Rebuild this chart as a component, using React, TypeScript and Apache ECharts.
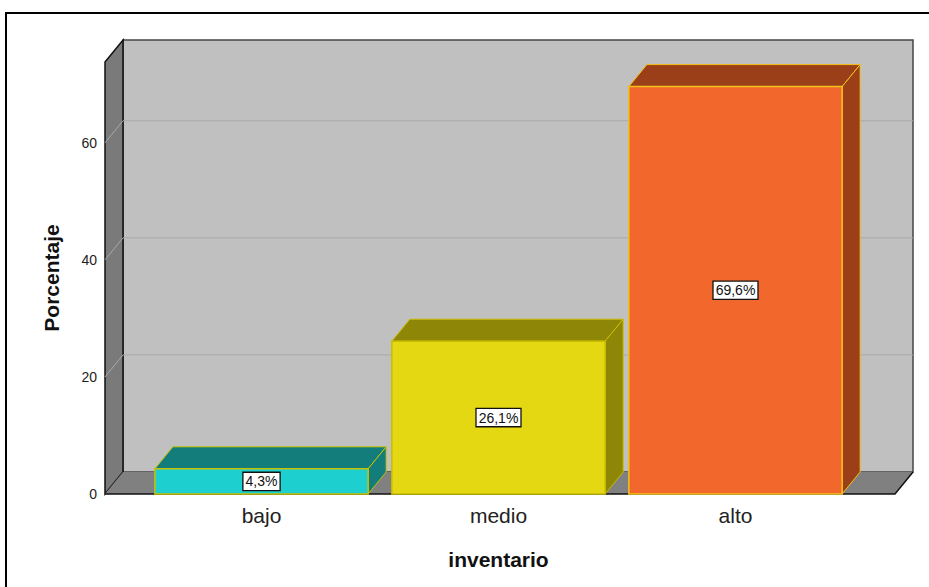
import React, { useEffect, useRef } from "react";
import * as echarts from "echarts";

const CATEGORIES = ["bajo", "medio", "alto"];
const VALUES = [4.3, 26.1, 69.6];
const VALUE_LABELS = ["4,3%", "26,1%", "69,6%"];
const Y_TICKS = [20, 40, 60];
const FRONT_COLORS = ["#1dcfcf", "#e3d811", "#f2672b"];
const DARK_COLORS = ["#137d7b", "#8e8607", "#9b3f18"];
const EDGE_COLORS = ["#c8c000", "#c9bd00", "#f2c21a"];

const FONT = "'Liberation Sans', Arial, sans-serif";
const DX = 18;
const DY = -22;
const PAD_L = 38;
const PAD_R = 41;

export default function App() {
  const ref = useRef<HTMLDivElement>(null);

  useEffect(() => {
    if (!ref.current) return;
    const chart = echarts.init(ref.current, null, { renderer: "svg" });

    const wallsRender = (params: any, api: any) => {
      const cs = params.coordSys;
      const fx0 = cs.x - PAD_L;
      const fx1 = cs.x + cs.width + PAD_R;
      const fy0 = cs.y;
      const fyB = cs.y + cs.height;
      const children: any[] = [];
      children.push({
        type: "rect",
        shape: { x: fx0 + DX, y: fy0 + DY, width: fx1 - fx0, height: fyB - fy0 },
        style: { fill: "#c0c0c0", stroke: "#454545", lineWidth: 1.5 },
      });
      children.push({
        type: "polygon",
        shape: {
          points: [
            [fx0, fy0],
            [fx0 + DX, fy0 + DY],
            [fx0 + DX, fyB + DY],
            [fx0, fyB],
          ],
        },
        style: { fill: "#7a7a7a", stroke: "#111", lineWidth: 1.5 },
      });
      Y_TICKS.forEach((v) => {
        const y = api.coord([0, v])[1];
        children.push({
          type: "line",
          shape: { x1: fx0 + DX, y1: y + DY, x2: fx1 + DX, y2: y + DY },
          style: { stroke: "#a9a9a9", lineWidth: 1 },
        });
        children.push({
          type: "line",
          shape: { x1: fx0, y1: y, x2: fx0 + DX, y2: y + DY },
          style: { stroke: "#a9a9a9", lineWidth: 1 },
        });
      });
      children.push({
        type: "polygon",
        shape: {
          points: [
            [fx0, fyB],
            [fx0 + DX, fyB + DY],
            [fx1 + DX, fyB + DY],
            [fx1, fyB],
          ],
        },
        style: { fill: "#808080", stroke: "none" },
      });
      children.push({
        type: "polyline",
        shape: {
          points: [
            [fx0, fyB],
            [fx1, fyB],
            [fx1 + DX, fyB + DY],
          ],
        },
        style: { fill: "none", stroke: "#111", lineWidth: 1.5 },
      });
      return { type: "group", children };
    };

    const barsRender = (params: any, api: any) => {
      const i = params.dataIndex;
      const c = api.value(0);
      const v = api.value(1);
      const top = api.coord([c, v]);
      const base = api.coord([c, 0]);
      const w = api.size([1, 0])[0] * 0.9;
      const x0 = top[0] - w / 2;
      const x1 = top[0] + w / 2;
      const yT = top[1];
      const yB = base[1];
      const edge = EDGE_COLORS[i];
      return {
        type: "group",
        children: [
          {
            type: "polygon",
            shape: {
              points: [
                [x0, yT],
                [x0 + DX, yT + DY],
                [x1 + DX, yT + DY],
                [x1, yT],
              ],
            },
            style: { fill: DARK_COLORS[i], stroke: edge, lineWidth: 1 },
          },
          {
            type: "polygon",
            shape: {
              points: [
                [x1, yT],
                [x1 + DX, yT + DY],
                [x1 + DX, yB + DY],
                [x1, yB],
              ],
            },
            style: { fill: DARK_COLORS[i], stroke: edge, lineWidth: 1 },
          },
          {
            type: "rect",
            shape: { x: x0, y: yT, width: w, height: yB - yT },
            style: { fill: FRONT_COLORS[i], stroke: edge, lineWidth: 1.5 },
          },
          {
            type: "text",
            x: top[0],
            y: (yT + yB) / 2,
            z2: 10,
            style: {
              text: VALUE_LABELS[i],
              fill: "#111",
              font: `14px ${FONT}`,
              align: "center",
              verticalAlign: "middle",
              backgroundColor: "#ffffff",
              borderColor: "#111",
              borderWidth: 1.3,
              padding: [2, 2, 1, 2],
            },
          },
        ],
      };
    };

    chart.setOption({
      animation: false,
      backgroundColor: "#ffffff",
      grid: { left: 143, right: 75, top: 62, bottom: 93 },
      xAxis: {
        type: "category",
        data: CATEGORIES,
        axisLine: { show: false },
        axisTick: { show: false },
        axisLabel: { fontSize: 21, color: "#222", fontFamily: FONT, margin: 11 },
        name: "inventario",
        nameLocation: "middle",
        nameGap: 55,
        nameTextStyle: { fontSize: 21, fontWeight: "bold", color: "#111", fontFamily: FONT },
      },
      yAxis: {
        type: "value",
        min: 0,
        max: 73.8,
        interval: 20,
        axisLine: { show: false },
        axisTick: { show: false },
        splitLine: { show: false },
        axisLabel: {
          fontSize: 14,
          color: "#222",
          fontFamily: FONT,
          margin: 46,
          showMaxLabel: false,
          formatter: (v: number) => (v % 20 === 0 ? String(v) : ""),
        },
        name: "Porcentaje",
        nameLocation: "middle",
        nameGap: 81,
        nameTextStyle: { fontSize: 21, fontWeight: "bold", color: "#111", fontFamily: FONT },
      },
      graphic: [
        {
          type: "rect",
          shape: { x: 6, y: 13, width: 1200, height: 1200 },
          style: { fill: "none", stroke: "#000", lineWidth: 2 },
          z: 100,
        },
      ],
      series: [
        {
          type: "custom",
          renderItem: wallsRender,
          data: [[0, 0]],
          silent: true,
          z: 1,
        },
        {
          type: "custom",
          renderItem: barsRender,
          data: VALUES.map((v, i) => [i, v]),
          z: 2,
        },
      ],
    });

    return () => chart.dispose();
  }, []);

  return (
    <div
      ref={ref}
      style={{ position: "fixed", left: 0, top: 0, width: 929, height: 587 }}
    />
  );
}
